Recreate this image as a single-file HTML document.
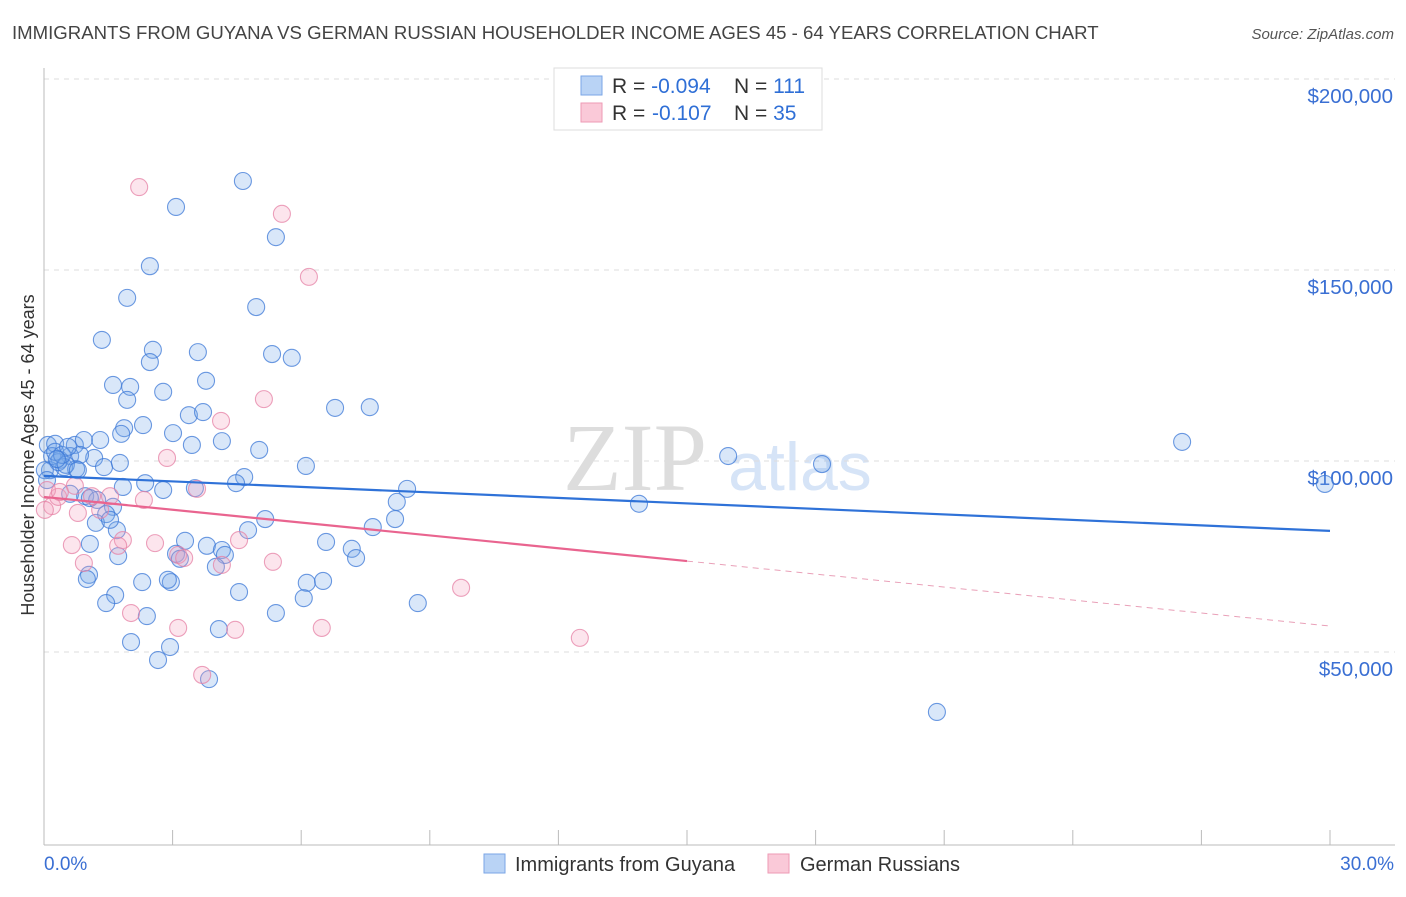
<!DOCTYPE html>
<html><head><meta charset="utf-8"><style>
body{margin:0;background:#fff;font-family:"Liberation Sans",sans-serif}
</style></head><body>
<svg id="c" width="1406" height="892" xmlns="http://www.w3.org/2000/svg" font-family="Liberation Sans, sans-serif">
<text x="12" y="39" font-size="18.6" fill="#444">IMMIGRANTS FROM GUYANA VS GERMAN RUSSIAN HOUSEHOLDER INCOME AGES 45 - 64 YEARS CORRELATION CHART</text>
<text x="1394" y="39" font-size="15" fill="#555" font-style="italic" text-anchor="end">Source: ZipAtlas.com</text>
<text x="635" y="490" font-size="96" fill="#ddd" text-anchor="middle" font-family="Liberation Serif, serif">ZIP</text>
<text x="800" y="490" font-size="68" fill="#d6e4f7" text-anchor="middle">atlas</text>
<g id="grid"></g><g id="axes"></g><g id="pts"></g><g id="lines"></g>
<text transform="translate(34,455) rotate(-90)" font-size="18" fill="#333" text-anchor="middle">Householder Income Ages 45 - 64 years</text>
<g>
<rect x="554" y="68" width="268" height="62" fill="#fff" stroke="#ddd"/>
<rect x="581" y="76" width="21" height="19" fill="#b9d3f5" stroke="#7aa6e6"/>
<rect x="581" y="103" width="21" height="19" fill="#fac9d8" stroke="#ee9ab5"/>
<text x="612" y="93" font-size="21" fill="#333">R = <tspan fill="#2f6fd6">-0.094</tspan><tspan x="734">N = </tspan><tspan fill="#2f6fd6">111</tspan></text>
<text x="612" y="120" font-size="21" fill="#333">R = <tspan fill="#2f6fd6" x="652">-0.107</tspan><tspan x="734">N = </tspan><tspan fill="#2f6fd6">35</tspan></text>
</g>
<g>
<rect x="484" y="854" width="21" height="19" fill="#b9d3f5" stroke="#7aa6e6"/>
<text x="515" y="871" font-size="20" fill="#333">Immigrants from Guyana</text>
<rect x="768" y="854" width="21" height="19" fill="#fac9d8" stroke="#ee9ab5"/>
<text x="800" y="871" font-size="20" fill="#333">German Russians</text>
</g>
</svg>
<script>
const yTicks=[50,100,150,200];
const yTickLabels=["$50,000","$100,000","$150,000","$200,000"];
const xTickCount=10;
const blueX=[4.64,3.08,5.41,2.47,1.94,4.95,1.35,2.54,3.59,5.32,5.78,2.47,1.61,2.01,2.78,3.78,1.94,6.79,7.60,3.38,3.71,2.31,1.87,1.80,3.01,1.31,4.15,3.45,5.02,0.09,0.26,0.72,0.93,1.17,0.61,0.37,0.14,0.47,0.75,6.11,15.96,18.15,26.55,29.88,4.67,4.48,2.36,1.84,2.78,3.52,8.47,8.23,0.61,0.96,1.24,1.61,1.45,13.88,5.16,7.67,8.19,1.21,1.70,4.76,3.29,1.07,3.80,6.58,7.18,3.08,1.73,4.15,7.28,4.22,3.17,4.01,1.05,1.00,2.29,2.96,2.89,6.13,6.51,4.55,1.66,6.06,1.45,8.72,5.41,2.40,4.08,2.03,2.94,2.66,3.85,20.83,0.19,0.33,0.51,0.02,0.07,0.84,1.40,0.26,0.42,0.56,1.07,1.77,1.54,0.79,0.30];
const blueY=[173.3,166.5,158.6,151.0,142.7,140.3,131.7,129.1,128.5,128.0,127.0,125.9,119.9,119.4,118.1,121.0,116.0,113.9,114.1,112.0,112.8,109.4,108.6,107.1,107.3,105.5,105.2,104.2,102.9,104.2,104.5,104.2,105.5,100.8,101.3,100.3,97.6,98.4,97.9,98.7,101.3,99.2,105.0,94.0,95.8,94.2,94.2,93.2,92.4,92.9,92.7,89.3,91.4,90.8,89.8,88.0,86.1,88.8,84.8,82.7,84.8,83.8,81.9,81.9,79.1,78.3,77.8,78.8,77.0,75.7,75.1,76.7,74.6,75.4,74.4,72.3,70.2,69.1,68.3,68.3,68.9,68.1,68.6,65.7,64.9,64.1,62.8,62.8,60.2,59.4,56.0,52.6,51.3,47.9,42.9,34.3,101.3,99.7,99.0,97.6,95.0,101.6,98.4,102.4,101.6,103.7,90.3,99.5,84.6,97.6,100.5];
const pinkX=[2.22,5.55,6.18,5.13,4.13,2.87,3.57,2.33,1.54,1.12,0.72,0.19,0.79,0.33,0.02,1.84,0.65,1.73,2.59,4.55,3.13,3.27,5.34,4.15,0.93,2.03,3.13,4.46,6.48,9.73,12.50,3.69,0.07,0.37,1.31];
const pinkY=[171.7,164.7,148.2,116.2,110.5,100.8,92.7,89.8,90.8,90.8,93.5,88.2,86.4,90.6,87.2,79.3,78.0,77.8,78.5,79.3,75.4,74.6,73.6,72.8,73.3,60.2,56.3,55.8,56.3,66.8,53.7,44.0,92.4,91.9,87.2];
const blueTrend=[96.1,81.7];   // at x=0 and x=30
const pinkTrend=[90.6,73.8,56.8]; // at x=0, 15, 30
const xs=v=>44+v/30*1286, ys=v=>843-v/50*191;
const NS="http://www.w3.org/2000/svg";
function mk(p,t,a){const e=document.createElementNS(NS,t);for(const k in a)e.setAttribute(k,a[k]);document.getElementById(p).appendChild(e);return e;}
yTicks.forEach((t,i)=>{
 const g=mk('grid','line',{x1:44,x2:1395,y1:ys(t),y2:ys(t),stroke:'#ddd','stroke-dasharray':'5,5'});
 
 
 const l=mk('axes','text',{x:1393,y:ys(t)+24,'font-size':20.5,fill:'#3a6fd3','text-anchor':'end'});
 l.textContent=yTickLabels[i];
 
 
});
const ax=mk('axes','line',{x1:44,x2:1395,y1:845,y2:845,stroke:'#bbb'});


const ay=mk('axes','line',{x1:44,x2:44,y1:68,y2:845,stroke:'#bbb'});


for(let i=0;i<=xTickCount;i++){const x=xs(i*30/xTickCount);
 const t=mk('axes','line',{x1:x,x2:x,y1:830,y2:845,stroke:'#bbb'});
 
 }
const x0=mk('axes','text',{x:44,y:870,'font-size':19,fill:'#3a6fd3'});x0.textContent='0.0%';


const x1=mk('axes','text',{x:1394,y:870,'font-size':19,fill:'#3a6fd3','text-anchor':'end'});x1.textContent='30.0%';


blueX.forEach((v,i)=>{const c=mk('pts','circle',{cx:xs(v),cy:ys(blueY[i]),r:8.5,fill:'rgba(120,168,235,0.28)',stroke:'rgba(60,120,215,0.75)','stroke-width':1.1});
 
 });
pinkX.forEach((v,i)=>{const c=mk('pts','circle',{cx:xs(v),cy:ys(pinkY[i]),r:8.5,fill:'rgba(245,160,190,0.28)',stroke:'rgba(230,130,165,0.75)','stroke-width':1.1});
 
 });
const bl=mk('lines','line',{x1:xs(0),y1:ys(blueTrend[0]),x2:xs(30),y2:ys(blueTrend[1]),stroke:'#2f72d8','stroke-width':2.2});


const pl=mk('lines','line',{x1:xs(0),y1:ys(pinkTrend[0]),x2:xs(15),y2:ys(pinkTrend[1]),stroke:'#e9648f','stroke-width':2.2});


const pd=mk('lines','line',{x1:xs(15),y1:ys(pinkTrend[1]),x2:xs(30),y2:ys(pinkTrend[2]),stroke:'#e9a0b8','stroke-width':1,'stroke-dasharray':'6,5'});


</script>
</body></html>
